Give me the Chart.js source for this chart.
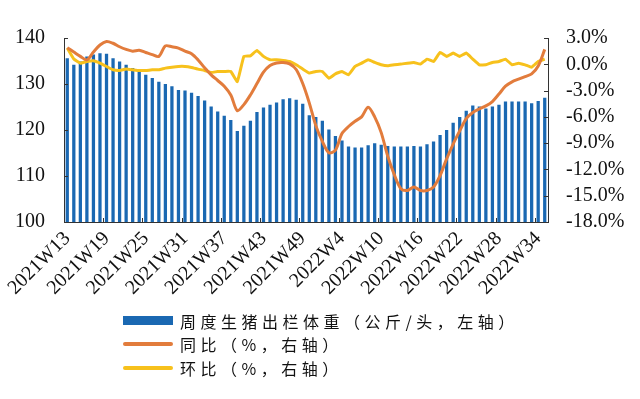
<!DOCTYPE html>
<html>
<head>
<meta charset="utf-8">
<script src="https://cdn.jsdelivr.net/npm/chart.js@4.4.1/dist/chart.umd.min.js"></script>
<style>
	body { margin: 0; background: #fff; }
	#wrap { position: relative; width: 640px; height: 399px; }
	#legend { position: absolute; left: 123px; top: 309px; font-family: "Noto Sans CJK SC", sans-serif; font-size: 16px; color: #111; letter-spacing: 4.5px; }
	.row { height: 23.5px; display: flex; align-items: center; }
	.sw { width: 50px; margin-right: 7px; }
</style>
</head>
<body>
<div id="wrap">
	<canvas id="chart" width="640" height="399"></canvas>
	<div id="legend"></div>
</div>
<script>
// categories
const weeks = [
	"2021W13", "2021W14", "2021W15", "2021W16", "2021W17", "2021W18", "2021W19", "2021W20",
	"2021W21", "2021W22", "2021W23", "2021W24", "2021W25", "2021W26", "2021W27", "2021W28",
	"2021W29", "2021W30", "2021W31", "2021W32", "2021W33", "2021W34", "2021W35", "2021W36",
	"2021W37", "2021W38", "2021W39", "2021W40", "2021W41", "2021W42", "2021W43", "2021W44",
	"2021W45", "2021W46", "2021W47", "2021W48", "2021W49", "2021W50", "2021W51", "2021W52",
	"2022W2", "2022W3", "2022W4", "2022W5", "2022W6", "2022W7", "2022W8", "2022W9",
	"2022W10", "2022W11", "2022W12", "2022W13", "2022W14", "2022W15", "2022W16", "2022W17",
	"2022W18", "2022W19", "2022W20", "2022W21", "2022W22", "2022W23", "2022W24", "2022W25",
	"2022W26", "2022W27", "2022W28", "2022W29", "2022W30", "2022W31", "2022W32", "2022W33",
	"2022W34", "2022W35",
];

// 周度生猪出栏体重 (kg/head, left axis)
const weight = [
	135.6, 134.2, 134.9, 136.0, 136.4, 136.7, 136.6, 135.6, 134.9, 134.2,
	133.5, 132.7, 132.0, 131.3, 130.5, 130.0, 129.5, 128.7, 128.6, 128.1,
	127.4, 126.4, 125.1, 124.0, 123.1, 122.2, 119.8, 120.9, 122.0, 123.9,
	124.9, 125.5, 126.0, 126.7, 126.9, 126.6, 125.7, 123.2, 122.8, 122.0,
	120.1, 118.7, 117.7, 116.4, 116.2, 116.2, 116.7, 117.1, 116.8, 116.5,
	116.4, 116.4, 116.4, 116.5, 116.4, 116.9, 117.5, 118.9, 120.0, 121.6,
	122.8, 124.2, 125.3, 125.1, 124.7, 125.1, 125.5, 126.2, 126.2, 126.2,
	126.2, 125.8, 126.3, 127.0,
];

// 同比 (%, right axis)
const yoy = [
	1.9, 1.4, 0.9, 0.5, 1.4, 2.2, 2.6, 2.4, 2.0, 1.7,
	1.5, 1.6, 1.35, 1.1, 0.9, 2.1, 2.0, 1.85, 1.5, 1.2,
	0.5, -0.4, -1.2, -1.85, -2.5, -3.5, -5.3, -4.6, -3.5, -2.2,
	-0.9, -0.15, 0.15, 0.2, 0.05, -0.6, -2.2, -4.4, -7.0, -8.8,
	-10.1, -9.8, -7.9, -7.1, -6.5, -6.0, -4.9, -6.0, -7.8, -10.5,
	-12.6, -14.2, -14.4, -14.0, -14.4, -14.4, -14.0, -12.7, -10.8, -9.1,
	-7.6, -6.2, -5.5, -5.1, -4.75, -4.25, -3.4, -2.5, -2.0, -1.7,
	-1.4, -1.1, -0.2, 1.7,
];

// 环比 (%, right axis)
const wow = [
	1.85, 0.6, 0.13, 0.32, 0.4, 0.13, -0.25, -0.63, -0.71, -0.55,
	-0.63, -0.71, -0.71, -0.63, -0.63, -0.44, -0.33, -0.25, -0.25, -0.36,
	-0.55, -0.71, -0.94, -0.82, -0.82, -0.82, -1.97, 0.9, 0.97, 1.58,
	0.9, 0.51, 0.51, 0.44, 0.32, -0.06, -0.55, -1.0, -0.82, -0.82,
	-1.59, -1.09, -0.82, -1.2, -0.25, 0.13, 0.51, 0.21, -0.06, -0.17,
	-0.06, 0.02, 0.13, 0.21, 0.02, 0.59, 0.32, 1.35, 0.9, 1.28,
	0.9, 1.28, 0.59, -0.06, -0.06, 0.21, 0.32, 0.59, -0.06, 0.13,
	-0.06, -0.33, 0.32, 0.59,
];

const leftTicks = [100, 110, 120, 130, 140];
const rightTicks = [-18, -15, -12, -9, -6, -3, 0, 3];
const legendNames = ["周度生猪出栏体重（公斤/头，左轴）", "同比（%，右轴）", "环比（%，右轴）"];

const blue = "#1a68b2";
const orange = "#e27c3c";
const yellow = "#f7c11c";
const axisColor = "#333";
const serif = { family: "'Liberation Serif', 'Times New Roman', serif", size: 20 };

// small ticks pointing into the plot
const innerTicks = {
	id: "innerTicks",
	afterDraw(chart) {
		const { ctx, chartArea: a, scales } = chart;
		ctx.save();
		ctx.strokeStyle = axisColor;
		ctx.lineWidth = 1;
		ctx.beginPath();
		leftTicks.forEach((v) => {
			const y = Math.round(scales.y.getPixelForValue(v)) + 0.5;
			ctx.moveTo(a.left, y);
			ctx.lineTo(a.left + 4, y);
		});
		rightTicks.forEach((v) => {
			const y = Math.round(scales.y1.getPixelForValue(v)) + 0.5;
			ctx.moveTo(a.right - 4, y);
			ctx.lineTo(a.right, y);
		});
		for (let k = 6; k < weeks.length; k += 6) {
			const x = Math.round((scales.x.getPixelForValue(k - 1) + scales.x.getPixelForValue(k)) / 2) + 0.5;
			ctx.moveTo(x, a.bottom);
			ctx.lineTo(x, a.bottom - 4);
		}
		ctx.stroke();
		ctx.restore();
	},
};

function drawChart() {
	const ctx = document.getElementById("chart").getContext("2d");
	new Chart(ctx, {
		data: {
			labels: weeks,
			datasets: [
				{
					type: "line",
					label: legendNames[1],
					data: yoy,
					yAxisID: "y1",
					borderColor: orange,
					borderWidth: 3,
					pointRadius: 0,
					tension: 0.3,
					order: 0,
				},
				{
					type: "line",
					label: legendNames[2],
					data: wow,
					yAxisID: "y1",
					borderColor: yellow,
					borderWidth: 3,
					pointRadius: 0,
					tension: 0.1,
					order: 1,
				},
				{
					type: "bar",
					label: legendNames[0],
					data: weight,
					yAxisID: "y",
					backgroundColor: blue,
					barPercentage: 0.5,
					categoryPercentage: 1.0,
					order: 2,
				},
			],
		},
		options: {
			responsive: false,
			animation: false,
			devicePixelRatio: 1,
			layout: { padding: { top: 38, left: 13, right: 0, bottom: 0 } },
			plugins: { legend: { display: false }, tooltip: { enabled: false } },
			scales: {
				x: {
					offset: true,
					grid: { display: false, drawTicks: false },
					border: { display: true, color: axisColor, width: 1 },
					afterFit: (s) => { s.height = 177; },
					ticks: {
						autoSkip: false,
						minRotation: 45,
						maxRotation: 45,
						padding: 5,
						color: "#111",
						font: serif,
						callback: (v, i) => (i % 6 === 0 ? weeks[i] : ""),
					},
				},
				y: {
					position: "left",
					min: 100,
					max: 140,
					grid: { display: false, drawTicks: false },
					border: { display: true, color: axisColor, width: 1 },
					afterFit: (s) => { s.width = 51; },
					afterBuildTicks: (s) => { s.ticks = leftTicks.map((v) => ({ value: v })); },
					ticks: { autoSkip: false, padding: 19, color: "#111", font: serif },
				},
				y1: {
					position: "right",
					min: -18,
					max: 3,
					grid: { display: false, drawTicks: false },
					border: { display: true, color: axisColor, width: 1 },
					afterFit: (s) => { s.width = 92; },
					afterBuildTicks: (s) => { s.ticks = rightTicks.map((v) => ({ value: v })); },
					ticks: {
						autoSkip: false,
						padding: 18,
						color: "#111",
						font: serif,
						callback: (v) => v.toFixed(1) + "%",
					},
				},
			},
		},
		plugins: [innerTicks],
	});
}

// legend
function drawLegend() {
	const swatches = [
		"height:9px;background:" + blue + ";",
		"height:4px;background:" + orange + ";border-radius:2px;",
		"height:4px;background:" + yellow + ";border-radius:2px;",
	];
	let html = "";
	legendNames.forEach((name, i) => {
		html += '<div class="row"><span class="sw" style="' + swatches[i] + '"></span><span>' + name + "</span></div>";
	});
	document.getElementById("legend").innerHTML = html;
}

drawChart();
drawLegend();
</script>
</body>
</html>
